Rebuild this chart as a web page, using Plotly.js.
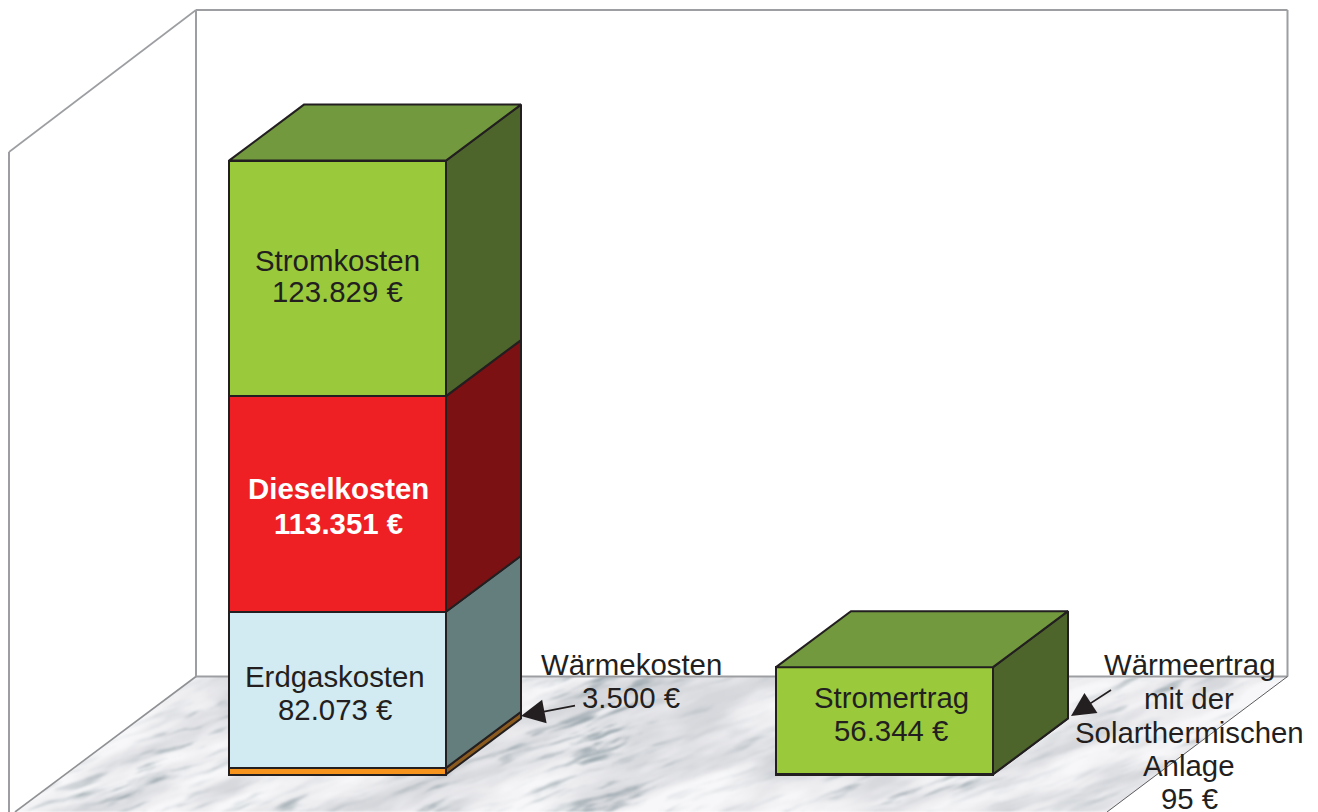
<!DOCTYPE html>
<html lang="de">
<head>
<meta charset="utf-8">
<title>Kosten und Erträge</title>
<script src="https://cdn.plot.ly/plotly-3.0.1.min.js"></script>
<style>html,body{margin:0;padding:0;background:#fff;overflow:hidden}#chart{width:1318px;height:812px}</style>
</head>
<body>
<div id="chart"></div>
<script>
// ---- data ----
const categories = [0, 1];
const waermekosten = [3500, 0];
const erdgaskosten = [82073, 0];
const dieselkosten = [113351, 0];
const stromkosten = [123829, 0];
const waermeertrag = [0, 95];
const stromertrag = [0, 56344];

const seriesNames = ['Wärmekosten', 'Erdgaskosten', 'Dieselkosten', 'Stromkosten', 'Wärmeertrag', 'Stromertrag'];
const seriesValues = [waermekosten, erdgaskosten, dieselkosten, stromkosten, waermeertrag, stromertrag];
const frontColors = ['#f7941e', '#d2ebf3', '#ee2024', '#9aca3c', '#f7941e', '#9aca3c'];
const sideColors = ['#8b5a1f', '#647d7d', '#7b1113', '#4d642b', '#8b5a1f', '#4d642b'];
const topColor = '#72993e';
const edgeColor = '#231f20';
const wallColor = '#9c9ea1';
const textColor = '#231f20';

// ---- axis scales ----
const W = 1318, H = 812;
const pxPerCat = 547, cat0Px = 337.5;
const pxPerEuro = 1.902 / 1000, zeroPx = 774.5;
const xRange = [(0 - cat0Px) / pxPerCat, (W - cat0Px) / pxPerCat];
const yRange = [(zeroPx - H) / pxPerEuro, zeroPx / pxPerEuro];
const toX = p => (p - cat0Px) / pxPerCat;
const toY = p => (zeroPx - p) / pxPerEuro;
const barWidth = 217 / pxPerCat;
const depthX = 75 / pxPerCat;
const depthY = 56 / pxPerEuro;

// ---- traces ----
const traces = [];
const edgeW = 2;
seriesNames.forEach((name, i) => {
  traces.push({
    type: 'bar', name, x: categories, y: seriesValues[i], width: barWidth,
    marker: {color: frontColors[i], line: {color: edgeColor, width: edgeW}},
    hoverinfo: 'name+y', showlegend: false
  });
});
categories.forEach((cat, c) => {
  let base = 0;
  const right = cat + barWidth / 2, left = cat - barWidth / 2;
  seriesValues.forEach((vals, i) => {
    const v = vals[c];
    if (!v) return;
    traces.push({
      type: 'scatter', mode: 'lines', fill: 'toself', fillcolor: sideColors[i],
      x: [right, right, right + depthX, right + depthX, right],
      y: [base, base + v, base + v + depthY, base + depthY, base],
      line: {color: edgeColor, width: edgeW}, hoverinfo: 'skip', showlegend: false
    });
    base += v;
  });
  traces.push({
    type: 'scatter', mode: 'lines', fill: 'toself', fillcolor: topColor,
    x: [left, right, right + depthX, left + depthX, left],
    y: [base, base, base + depthY, base + depthY, base],
    line: {color: edgeColor, width: edgeW}, hoverinfo: 'skip', showlegend: false
  });
});

// ---- room ----
const floorPx = [[196, 676.5], [1287.5, 676.5], [1107, 812], [15, 812]];
const wall = (x0, y0, x1, y1, color, width) => ({
  type: 'line', xref: 'x', yref: 'y', layer: 'below',
  x0: toX(x0), y0: toY(y0), x1: toX(x1), y1: toY(y1),
  line: {color, width}
});
const shapes = [
  wall(196, 10, 1287.5, 10, wallColor, 2),
  wall(196, 10, 196, 676.5, wallColor, 2),
  wall(1287.5, 10, 1287.5, 676.5, wallColor, 2),
  wall(196, 676.5, 1287.5, 676.5, wallColor, 2),
  wall(196, 10, 9, 152, wallColor, 1.6),
  wall(9, 152, 9, 812, wallColor, 2),
  wall(196, 676.5, 15, 812, '#8f9194', 1.6),
  wall(1287.5, 676.5, 1107, 812, '#4a4a4c', 0.9)
];

// ---- marble floor texture (decoration only) ----
function marble() {
  const cw = W, ch = 136, top = 676;
  const cv = document.createElement('canvas');
  cv.width = cw; cv.height = ch;
  const g = cv.getContext('2d');
  const img = g.createImageData(cw, ch);
  const hash = (a, b) => { const s = Math.sin(a * 127.1 + b * 311.7) * 43758.5453; return s - Math.floor(s); };
  const smooth = t => t * t * (3 - 2 * t);
  const noise = (x, y) => {
    const i = Math.floor(x), j = Math.floor(y), f = smooth(x - i), h = smooth(y - j);
    const a = hash(i, j), b = hash(i + 1, j), c = hash(i, j + 1), d = hash(i + 1, j + 1);
    return (a + (b - a) * f) * (1 - h) + (c + (d - c) * f) * h;
  };
  const fbm = (x, y) => {
    let s = 0, a = 0.5;
    for (let k = 0; k < 4; k++) { s += a * noise(x, y); x = x * 2.03 + 7; y = y * 2.03 + 3; a *= 0.5; }
    return s / 0.9375;
  };
  const ang = 0.34, ca = Math.cos(ang), sa = Math.sin(ang);
  for (let y = 0; y < ch; y++) {
    for (let x = 0; x < cw; x++) {
      const wx = x + 10 * (fbm(x / 90, y / 60) - 0.5);
      const wy = y + 10 * (fbm(x / 70 + 9, y / 50 + 4) - 0.5);
      const u = wx * ca - wy * sa, v = wx * sa + wy * ca;
      const cloud = fbm(u / 90 + 3, v / 20 + 5);
      const vein = fbm(u / 38, v / 4.5);
      const patch = fbm(u / 110 + 11, v / 45 + 2);
      const gate = Math.max(0, 0.54 - patch) * 4;
      let d = Math.max(0, 0.45 - vein) * 2.6 * (0.25 + gate);
      d += Math.max(0, 0.5 - cloud) * 0.4;
      d = Math.min(0.7, d);
      const l = Math.max(0, Math.min(1, (cloud - 0.3) * 2.5));
      const p = (y * cw + x) * 4;
      img.data[p]     = (224 + 23 * l) * (1 - d) + 122 * d;
      img.data[p + 1] = (224 + 23 * l) * (1 - d) + 140 * d;
      img.data[p + 2] = (228 + 21 * l) * (1 - d) + 148 * d;
      img.data[p + 3] = 255;
    }
  }
  const tmp = document.createElement('canvas');
  tmp.width = cw; tmp.height = ch;
  tmp.getContext('2d').putImageData(img, 0, 0);
  g.clearRect(0, 0, cw, ch);
  g.beginPath();
  floorPx.forEach((p, i) => i ? g.lineTo(p[0], p[1] - top) : g.moveTo(p[0], p[1] - top));
  g.closePath();
  g.clip();
  g.filter = 'blur(1.2px)';
  g.drawImage(tmp, 0, 0);
  return cv.toDataURL('image/png');
}

// ---- labels ----
const font = {family: '"Liberation Sans", Arial, sans-serif', size: 29.4, color: textColor};
const boldWhite = {family: font.family, size: 29.4, color: '#ffffff'};
const label = (text, cx, cy, f) => ({
  x: toX(cx), y: toY(cy), xref: 'x', yref: 'y', text: f === boldWhite ? '<b>' + text + '</b>' : text,
  showarrow: false, font: f || font, xanchor: 'center', yanchor: 'middle', borderpad: 0
});
const euro = v => String(v).replace(/\B(?=(\d{3})+$)/g, '.') + ' €';
const annotations = [
  label('Stromkosten', 337, 260),
  label(euro(stromkosten[0]), 337, 291),
  label('Dieselkosten', 338, 488, boldWhite),
  label(euro(dieselkosten[0]), 338, 523, boldWhite),
  label('Erdgaskosten', 335, 676),
  label(euro(erdgaskosten[0]), 335, 709),
  label('Stromertrag', 891, 697),
  label(euro(stromertrag[1]), 891, 730),
  label('Wärmekosten', 631, 664),
  label(euro(waermekosten[0]), 631, 697),
  label('Wärmeertrag', 1189, 664),
  label('mit der', 1189, 698),
  label('Solarthermischen', 1189, 732),
  label('Anlage', 1189, 765),
  label(euro(waermeertrag[1]), 1189, 798),
  {x: toX(521), y: toY(716), xref: 'x', yref: 'y', ax: 57, ay: -11, axref: 'pixel', ayref: 'pixel',
   showarrow: true, arrowhead: 2, arrowsize: 2.8, arrowwidth: 1.7, arrowcolor: textColor, standoff: 0},
  {x: toX(1071), y: toY(716), xref: 'x', yref: 'y', ax: 43, ay: -28, axref: 'pixel', ayref: 'pixel',
   showarrow: true, arrowhead: 2, arrowsize: 2.8, arrowwidth: 1.7, arrowcolor: textColor, standoff: 0}
];

const hidden = {visible: false, fixedrange: true, showgrid: false, zeroline: false};
const layout = {
  width: W, height: H,
  margin: {l: 0, r: 0, t: 0, b: 0, pad: 0},
  paper_bgcolor: '#ffffff', plot_bgcolor: 'rgba(0,0,0,0)',
  barmode: 'stack', showlegend: false,
  xaxis: Object.assign({range: xRange, type: 'linear'}, hidden),
  yaxis: Object.assign({range: yRange, type: 'linear'}, hidden),
  images: [{source: marble(), xref: 'paper', yref: 'paper', x: 0, y: 136 / H, sizex: 1, sizey: 136 / H,
            sizing: 'stretch', xanchor: 'left', yanchor: 'top', layer: 'below'}],
  shapes, annotations
};
Plotly.newPlot('chart', traces, layout, {displayModeBar: false});
</script>
</body>
</html>
